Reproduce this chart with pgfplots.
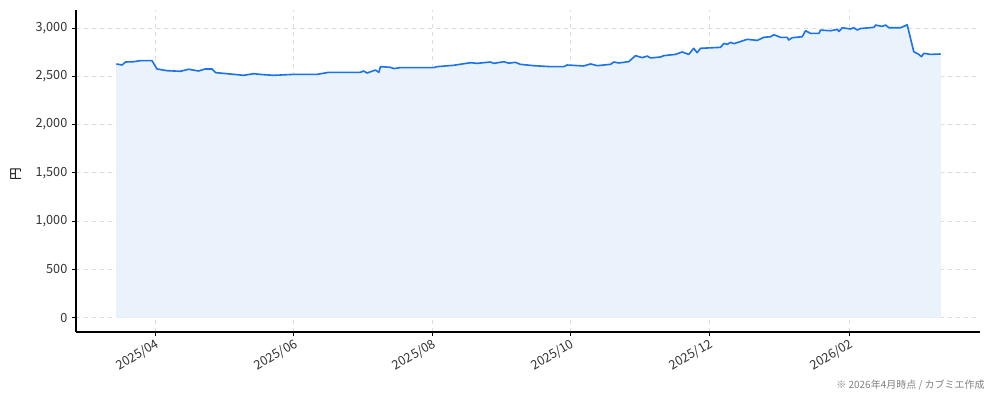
\documentclass[border=0pt]{standalone}
\usepackage{fontspec}
\setmainfont{Noto Sans CJK JP}
\usepackage{pgfplots}
\pgfplotsset{compat=1.18}

\definecolor{lineblue}{HTML}{1A73E8}
\definecolor{fillblue}{HTML}{EAF2FC}
\definecolor{gridgray}{HTML}{DDDDDD}

% x = days since 2025-04-01
\begin{document}
\begin{tikzpicture}
\path[use as bounding box] (-57pt,-51.75pt) rectangle (688.5pt,249pt);
\begin{axis}[
  scale only axis,
  width=678pt, height=241.5pt,
  xmin=-35, xmax=363.5,
  ymin=-150, ymax=3187,
  axis x line*=bottom, axis y line*=left,
  axis line style={black, line width=0.8pt, -},
  tick align=outside,
  major tick length=3pt,
  tick style={black, line width=0.6pt},
  xtick={0,61,122,183,244,306},
  xticklabels={2025/04,2025/06,2025/08,2025/10,2025/12,2026/02},
  xticklabel style={rotate=30, anchor=north east, inner sep=1pt},
  ytick={0,500,...,3000},
  yticklabel style={/pgf/number format/.cd, 1000 sep={,}},
  /pgf/number format/assume math mode=true,
  ticklabel style={font=\fontsize{9.5}{11}\selectfont, text=black!80},
  grid=major,
  major grid style={gridgray, dashed, line width=0.5pt},
  ylabel={円},
  ylabel style={font=\fontsize{9.5}{11}\selectfont, at={(axis description cs:-0.066,0.49)}, anchor=center},
  clip=false,
]
\addplot[draw=lineblue!12, fill=fillblue, line width=0.4pt] table {
x y
-17.2 2628
-14.7 2617
-13.2 2648
-9.7 2651
-6.6 2662
-1.5 2662
0.7 2576
5.2 2558
11.0 2552
14.7 2573
19.0 2555
22.0 2576
25.0 2576
26.5 2538
31.6 2527
38.9 2510
43.3 2527
47.0 2518
52.2 2510
61.0 2520
71.3 2520
76.4 2541
90.4 2541
91.8 2555
93.3 2534
97.0 2565
98.5 2541
99.2 2600
103.6 2593
105.1 2580
108.0 2590
122.7 2590
124.2 2600
131.5 2614
138.9 2641
141.8 2634
147.7 2648
149.2 2634
153.6 2651
155.8 2636
158.7 2645
160.9 2624
166.8 2610
174.2 2600
180.0 2600
181.5 2617
188.8 2607
191.8 2628
194.8 2610
200.6 2624
202.1 2648
204.3 2638
208.7 2652
211.6 2714
214.6 2693
216.8 2710
218.3 2690
222.7 2700
224.1 2714
229.3 2727
232.2 2752
235.1 2727
237.3 2790
238.8 2745
240.3 2790
249.1 2800
250.6 2841
252.1 2831
253.5 2852
255.0 2838
260.9 2883
265.3 2872
268.2 2904
271.2 2910
272.6 2931
275.6 2904
278.5 2904
279.2 2876
280.7 2900
285.1 2910
286.6 2972
288.8 2945
292.5 2945
293.2 2979
297.6 2972
300.6 2986
301.3 2965
302.8 3003
306.4 2990
307.8 3003
309.4 2980
310.8 2995
316.7 3007
317.5 3031
320.3 3017
321.9 3031
323.3 3003
328.5 3003
331.4 3034
334.3 2755
336.5 2727
337.7 2703
338.7 2738
341.7 2727
346.1 2731
} \closedcycle;
\addplot[lineblue, line width=1.2pt, line join=round] table {
x y
-17.2 2628
-14.7 2617
-13.2 2648
-9.7 2651
-6.6 2662
-1.5 2662
0.7 2576
5.2 2558
11.0 2552
14.7 2573
19.0 2555
22.0 2576
25.0 2576
26.5 2538
31.6 2527
38.9 2510
43.3 2527
47.0 2518
52.2 2510
61.0 2520
71.3 2520
76.4 2541
90.4 2541
91.8 2555
93.3 2534
97.0 2565
98.5 2541
99.2 2600
103.6 2593
105.1 2580
108.0 2590
122.7 2590
124.2 2600
131.5 2614
138.9 2641
141.8 2634
147.7 2648
149.2 2634
153.6 2651
155.8 2636
158.7 2645
160.9 2624
166.8 2610
174.2 2600
180.0 2600
181.5 2617
188.8 2607
191.8 2628
194.8 2610
200.6 2624
202.1 2648
204.3 2638
208.7 2652
211.6 2714
214.6 2693
216.8 2710
218.3 2690
222.7 2700
224.1 2714
229.3 2727
232.2 2752
235.1 2727
237.3 2790
238.8 2745
240.3 2790
249.1 2800
250.6 2841
252.1 2831
253.5 2852
255.0 2838
260.9 2883
265.3 2872
268.2 2904
271.2 2910
272.6 2931
275.6 2904
278.5 2904
279.2 2876
280.7 2900
285.1 2910
286.6 2972
288.8 2945
292.5 2945
293.2 2979
297.6 2972
300.6 2986
301.3 2965
302.8 3003
306.4 2990
307.8 3003
309.4 2980
310.8 2995
316.7 3007
317.5 3031
320.3 3017
321.9 3031
323.3 3003
328.5 3003
331.4 3034
334.3 2755
336.5 2727
337.7 2703
338.7 2738
341.7 2727
346.1 2731
};
\end{axis}
\node[anchor=east, text=black!50, font=\fontsize{7.5}{9}\selectfont, inner sep=0pt] at (681.75pt,-39.75pt) {※ 2026年4月時点 / カブミエ作成};
\end{tikzpicture}
\end{document}
